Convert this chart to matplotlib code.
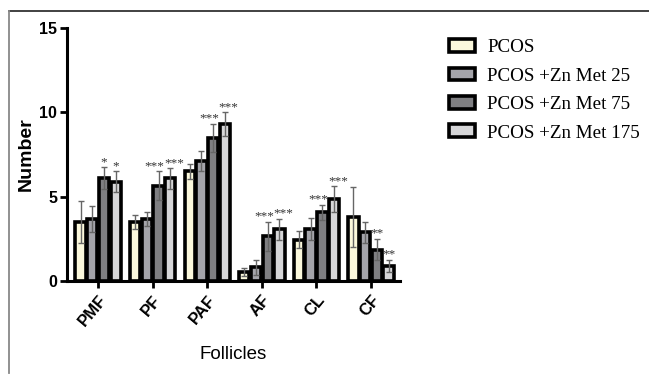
import matplotlib
matplotlib.use("Agg")
import matplotlib.pyplot as plt
import numpy as np
from matplotlib.patches import Patch
from matplotlib.lines import Line2D

categories = ["PMF", "PF", "PAF", "AF", "CL", "CF"]
series_names = ["PCOS", "PCOS +Zn Met 25", "PCOS +Zn Met 75", "PCOS +Zn Met 175"]
pcos      = [3.49, 3.49, 6.50, 0.55, 2.46, 3.80]
pcos_err  = [1.24, 0.43, 0.45, 0.24, 0.49, 1.78]
zn25      = [3.70, 3.70, 7.11, 0.81, 3.07, 2.89]
zn25_err  = [0.77, 0.42, 0.59, 0.46, 0.65, 0.61]
zn75      = [6.08, 5.66, 8.48, 2.65, 4.08, 1.86]
zn75_err  = [0.65, 0.84, 0.83, 0.85, 0.45, 0.64]
zn175     = [5.88, 6.08, 9.31, 3.07, 4.85, 0.91]
zn175_err = [0.62, 0.61, 0.71, 0.63, 0.77, 0.36]
sig75  = ["*", "***", "***", "***", "***", "**"]
sig175 = ["*", "***", "***", "***", "***", "**"]

values = [pcos, zn25, zn75, zn175]
errors = [pcos_err, zn25_err, zn75_err, zn175_err]
colors = ["#fbf8dc", "#a4a4aa", "#7f7f82", "#d6d6d8"]

fig = plt.figure(figsize=(6.49, 3.75), dpi=100)
ax = fig.add_axes([67/649, 1-281/375, (400-67)/649, (281-28)/375])

x = np.arange(len(categories))
width = 0.19
step = 0.215
offsets = [-1.5*step, -0.5*step, 0.5*step, 1.5*step]
for i in range(4):
    xs = x + offsets[i]
    ax.bar(xs, values[i], width, color=colors[i], edgecolor="black", linewidth=2.6, zorder=2)
    ax.errorbar(xs, values[i], yerr=errors[i], fmt="none", ecolor="#666666",
                elinewidth=1.0, capsize=2, capthick=1.0, zorder=3)

for j in range(len(categories)):
    for i, sig, shift in ((2, sig75, -0.07), (3, sig175, 0.07)):
        top = values[i][j] + errors[i][j]
        dx = shift if len(sig[j]) == 3 else 0.0
        ax.text(x[j] + offsets[i] + dx, top - 0.05, sig[j], ha="center", va="bottom",
                fontsize=9.5, family="Liberation Serif", color="#333333")

ax.set_ylim(0, 15)
ax.set_xlim(-0.57, 5.53)
ax.set_yticks([0, 5, 10, 15])
ax.set_yticklabels(["0", "5", "10", "15"], fontsize=11.5, fontweight="bold", family="Liberation Sans")
ax.set_xticks(x)
ax.set_xticklabels(categories, rotation=50, ha="right", rotation_mode="anchor",
                   fontsize=12, fontweight="bold", family="Liberation Sans")
ax.spines["top"].set_visible(False)
ax.spines["right"].set_visible(False)
ax.spines["left"].set_linewidth(2.2)
ax.spines["bottom"].set_linewidth(2.2)
ax.tick_params(axis="both", width=2, length=5, direction="out")
ax.tick_params(axis="y", pad=2)
ax.set_ylabel("Number", fontsize=14, fontweight="bold", family="Liberation Sans", labelpad=3)
ax.set_xlabel("Follicles", fontsize=13.5, family="Liberation Sans", labelpad=12)

handles = [Patch(facecolor=c, edgecolor="black", linewidth=2.6) for c in colors]
leg = fig.legend(handles, series_names, loc="upper left", bbox_to_anchor=(432/649, 1-22/375),
                 frameon=False, prop={"family": "Liberation Serif", "size": 13.7},
                 handlelength=1.35, handleheight=0.65, labelspacing=0.6, handletextpad=0.65)

# image frame: top and left edges only
fig.add_artist(Line2D([9/649, 1.0], [1-11/375, 1-11/375], transform=fig.transFigure,
                      color="#333333", linewidth=1.3))
fig.add_artist(Line2D([9/649, 9/649], [1-11/375, 1-373/375], transform=fig.transFigure,
                      color="#888888", linewidth=1.3))

fig.savefig("out.png", dpi=100)
